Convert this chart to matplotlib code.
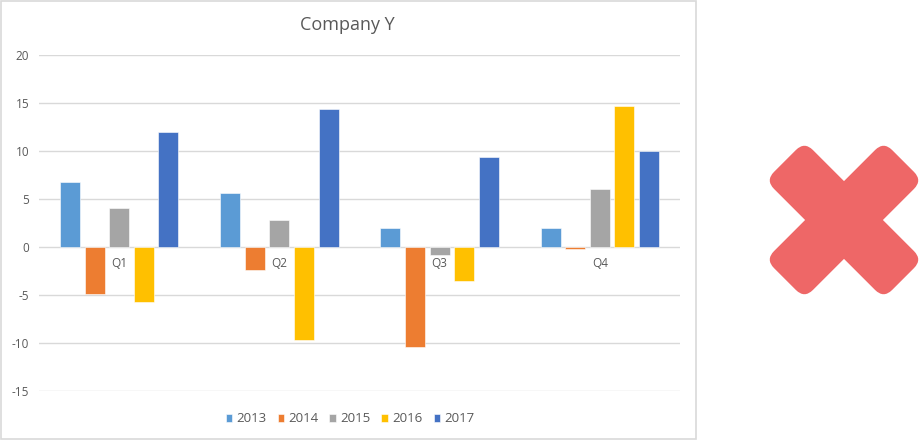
"""Company Y quarterly bar chart (Excel style) with a red cross mark."""
import matplotlib
matplotlib.use("Agg")
import matplotlib.pyplot as plt
import numpy as np
from matplotlib.patches import FancyBboxPatch, Rectangle
from matplotlib.transforms import Affine2D

quarters = ["Q1", "Q2", "Q3", "Q4"]
years = ["2013", "2014", "2015", "2016", "2017"]
v2013 = [6.8, 5.6, 1.95, 2.0]
v2014 = [-4.95, -2.4, -10.4, -0.2]
v2015 = [4.1, 2.85, -0.85, 6.1]
v2016 = [-5.75, -9.75, -3.6, 14.7]
v2017 = [11.95, 14.35, 9.35, 10.05]
colors = ["#5B9BD5", "#ED7D31", "#A5A5A5", "#FFC000", "#4472C4"]
yticks = [-15, -10, -5, 0, 5, 10, 15, 20]

TEXT = "#595959"
GRID = "#D9D9D9"
FONT = "Open Sans"

W, H = 920, 441
fig = plt.figure(figsize=(W / 100, H / 100), dpi=100)

# background layer in pixel coordinates: chart border and the cross
bg = fig.add_axes([0, 0, 1, 1], zorder=0)
bg.set_xlim(0, W)
bg.set_ylim(H, 0)
bg.axis("off")
bg.add_patch(Rectangle((0.5, 0.5), 696, 438.5, fill=False, edgecolor=GRID, linewidth=1.2))

cx, cy = 844, 220
arm_len, arm_half, r = 167, 27.5, 12
for ang in (45, -45):
    p = FancyBboxPatch((cx - arm_len / 2 + r, cy - arm_half + r), arm_len - 2 * r, 2 * arm_half - 2 * r,
                       boxstyle=f"round,pad={r}", facecolor="#EE6767", edgecolor="none")
    p.set_transform(Affine2D().rotate_deg_around(cx, cy, ang) + bg.transData)
    bg.add_patch(p)

# chart axes
ax = fig.add_axes([39 / W, 1 - 390.7 / H, (680 - 39) / W, (390.7 - 55.3) / H], zorder=1)
ax.patch.set_alpha(0)
x = np.arange(len(quarters))
series = [v2013, v2014, v2015, v2016, v2017]
step, width = 0.1535, 0.125
for i, (vals, c, lab) in enumerate(zip(series, colors, years)):
    ax.bar(x + (i - 2) * step, vals, width, color=c, label=lab,
           edgecolor="white", linewidth=0.4, zorder=3)

ax.set_xlim(-0.5, len(quarters) - 0.5)
ax.set_ylim(-15, 20)
ax.set_yticks(yticks)
ax.set_yticklabels([str(t) for t in yticks], fontsize=8.5, color=TEXT, family=FONT)
ax.tick_params(axis="y", length=0, pad=7)
ax.set_xticks([])
ax.grid(axis="y", color=GRID, linewidth=1, zorder=0)
for s in ax.spines.values():
    s.set_visible(False)

for xi, q in zip(x, quarters):
    ax.annotate(q, (xi, 0), xytext=(0, -17), textcoords="offset pixels",
                ha="center", va="center", fontsize=8.5, color=TEXT, family=FONT)

fig.text(347 / W, 1 - 25 / H, "Company Y", ha="center", va="center",
         fontsize=13, color=TEXT, family=FONT)

leg = fig.legend(loc="center", bbox_to_anchor=(350 / W, 1 - 419 / H), ncol=5, frameon=False,
                 handlelength=0.5, handleheight=0.5, handletextpad=0.3, columnspacing=0.85,
                 prop={"family": FONT, "size": 9.5})
for t in leg.get_texts():
    t.set_color(TEXT)

fig.savefig("out.png", dpi=100)
